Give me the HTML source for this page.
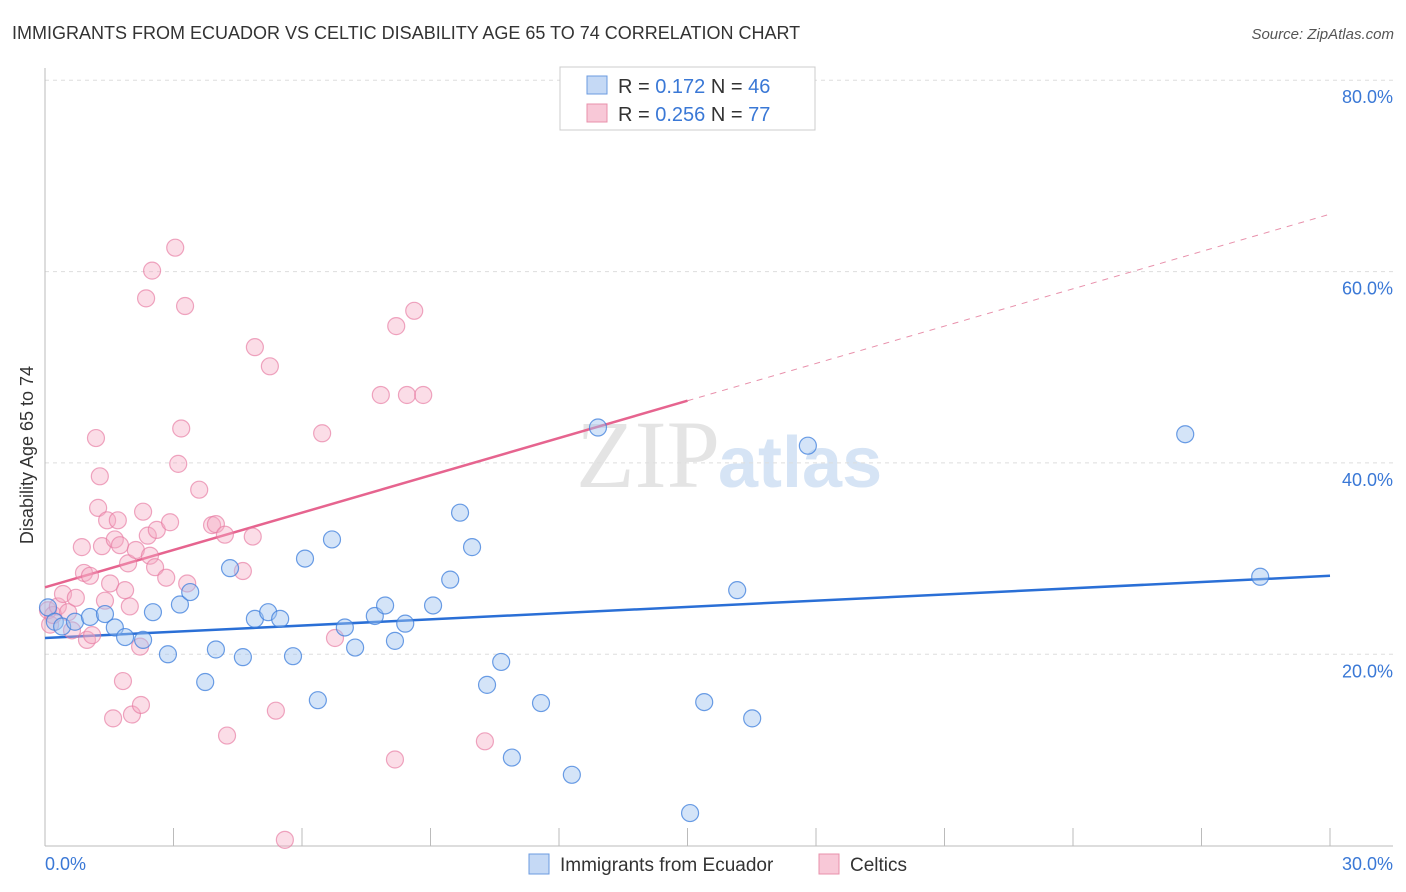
<!DOCTYPE html>
<html><head><meta charset="utf-8"><style>
body{margin:0;background:#fff;font-family:"Liberation Sans",sans-serif}
svg{display:block}
</style></head><body>
<svg id="chart" width="1406" height="892">
<text x="12" y="39" font-size="18" fill="#333">IMMIGRANTS FROM ECUADOR VS CELTIC DISABILITY AGE 65 TO 74 CORRELATION CHART</text>
<text x="1394" y="39" font-size="15" fill="#555" font-style="italic" text-anchor="end">Source: ZipAtlas.com</text>
<text x="720" y="487" font-size="96" fill="#e4e4e4" text-anchor="end" font-family="Liberation Serif,serif">ZIP</text>
<text x="718" y="487" font-size="72" fill="#d6e4f5" font-weight="bold">atlas</text>
<text transform="translate(33,455) rotate(-90)" font-size="18" fill="#333" text-anchor="middle">Disability Age 65 to 74</text>
<g id="grid"></g><g id="axes"></g><g id="trends"></g><g id="pts"></g>
<g>
<rect x="560" y="67" width="255" height="63" fill="#fff" stroke="#ccc"/>
<rect x="587" y="76" width="20" height="18" fill="#c5d9f5" stroke="#6b9be0"/>
<rect x="587" y="104" width="20" height="18" fill="#f8c8d7" stroke="#e890ab"/>
<text x="618" y="93" font-size="20" fill="#333">R = <tspan fill="#3a78d6"> 0.172</tspan>   N = <tspan fill="#3a78d6">46</tspan></text>
<text x="618" y="121" font-size="20" fill="#333">R = <tspan fill="#3a78d6">0.256</tspan>   N = <tspan fill="#3a78d6">77</tspan></text>
</g>
<text x="45" y="870" font-size="18" fill="#3a78d6">0.0%</text>
<text x="1393" y="870" font-size="18" fill="#3a78d6" text-anchor="end">30.0%</text>
<g>
<rect x="529" y="854" width="20" height="20" fill="#c5d9f5" stroke="#6b9be0"/>
<text x="560" y="871" font-size="19" fill="#333">Immigrants from Ecuador</text>
<rect x="819" y="854" width="20" height="20" fill="#f8c8d7" stroke="#e890ab"/>
<text x="850" y="871" font-size="19" fill="#333">Celtics</text>
</g>
</svg>
<script>
const yTicks=[20,40,60,80];
const yTickLabels=["20.0%","40.0%","60.0%","80.0%"];
const xTicks=[3,6,9,12,15,18,21,24,27,30];
const blueX=[0.07,0.23,0.40,0.70,1.05,1.40,1.63,1.87,2.29,2.52,2.87,3.15,3.39,3.74,3.99,4.32,4.62,4.90,5.21,5.49,5.79,6.07,6.37,6.70,7.00,7.24,7.70,7.94,8.17,8.41,9.06,9.46,9.69,9.97,10.32,10.65,10.90,11.58,12.30,12.91,15.06,15.39,16.16,16.51,17.81,26.62,28.37];
const blueY=[24.9,23.4,22.9,23.4,23.9,24.2,22.8,21.8,21.5,24.4,20.0,25.2,26.5,17.1,20.5,29.0,19.7,23.7,24.4,23.7,19.8,30.0,15.2,32.0,22.8,20.7,24.0,25.1,21.4,23.2,25.1,27.8,34.8,31.2,16.8,19.2,9.2,14.9,7.4,43.7,3.4,15.0,26.7,13.3,41.8,43.0,28.1];
const pinkX=[0.07,0.12,0.19,0.30,0.42,0.54,0.63,0.72,0.86,0.91,0.98,1.05,1.10,1.19,1.24,1.28,1.33,1.40,1.45,1.52,1.59,1.63,1.70,1.75,1.82,1.87,1.94,1.98,2.03,2.12,2.22,2.24,2.29,2.36,2.40,2.45,2.50,2.57,2.61,2.83,2.92,3.04,3.11,3.18,3.27,3.32,3.60,3.90,3.99,4.20,4.25,4.62,4.85,4.90,5.25,5.39,5.60,6.47,6.77,7.84,8.20,8.17,8.45,8.62,8.83,10.27];
const pinkY=[24.6,23.1,24.1,25.0,26.3,24.4,22.5,25.9,31.2,28.5,21.5,28.2,22.0,42.6,35.3,38.6,31.3,25.6,34.0,27.4,13.3,32.0,34.0,31.4,17.2,26.7,29.5,25.0,13.7,30.9,20.8,14.7,34.9,57.2,32.4,30.3,60.1,29.1,33.0,28.0,33.8,62.5,39.9,43.6,56.4,27.4,37.2,33.5,33.6,32.5,11.5,28.7,32.3,52.1,50.1,14.1,0.6,43.1,21.7,47.1,54.3,9.0,47.1,55.9,47.1,10.9];
const blueTrend=[21.7,28.2];
const pinkTrend=[27.0,66.0];
const pinkSolidEnd=15.0;

const NS="http://www.w3.org/2000/svg";
const X=v=>45+v*(1285/30);
const Y=v=>845.6-v*9.567;
function mk(tag,attrs,parent){const e=document.createElementNS(NS,tag);for(const k in attrs)e.setAttribute(k,attrs[k]);document.getElementById(parent).appendChild(e);return e;}
yTicks.forEach((t,i)=>{
  const l=mk('line',{x1:45,x2:1393,y1:Y(t),y2:Y(t),stroke:'#ddd','stroke-dasharray':'4,4'},'grid');
  
  
  const tx=mk('text',{x:1393,y:Y(t)+23,'font-size':18,fill:'#3a78d6','text-anchor':'end'},'grid');
  tx.textContent=yTickLabels[i];
  
  
});
let a=mk('line',{x1:45,x2:45,y1:68,y2:846,stroke:'#bbb'},'axes');


a=mk('line',{x1:45,x2:1393,y1:846,y2:846,stroke:'#bbb'},'axes');


xTicks.forEach(t=>{
  const l=mk('line',{x1:X(t),x2:X(t),y1:828,y2:846,stroke:'#bbb'},'axes');
  
  
});
function pl(x1,y1,x2,y2,c,w,d,name){
  const l=mk('line',{x1:X(x1),y1:Y(y1),x2:X(x2),y2:Y(y2),stroke:c,'stroke-width':w},'trends');
  if(d)l.setAttribute('stroke-dasharray',d);
  
  
}
const pAt=x=>pinkTrend[0]+(pinkTrend[1]-pinkTrend[0])*x/30;
pl(0,blueTrend[0],30,blueTrend[1],'#2a6fd6',2.5,null,'ecuador-trend-line');
pl(0,pinkTrend[0],pinkSolidEnd,pAt(pinkSolidEnd),'#e6648f',2.5,null,'celtics-trend-line');
pl(pinkSolidEnd,pAt(pinkSolidEnd),30,pinkTrend[1],'#e890ab',1,'6,6','celtics-trend-extension');
pinkX.forEach((x,i)=>{
  const c=mk('circle',{cx:X(x),cy:Y(pinkY[i]),r:8.5,fill:'rgba(244,170,196,0.4)',stroke:'rgba(230,120,160,0.65)','stroke-width':1.2},'pts');
  
  
});
blueX.forEach((x,i)=>{
  const c=mk('circle',{cx:X(x),cy:Y(blueY[i]),r:8.5,fill:'rgba(160,196,240,0.45)',stroke:'rgba(60,125,220,0.75)','stroke-width':1.2},'pts');
  
  
});
</script>
</body></html>
